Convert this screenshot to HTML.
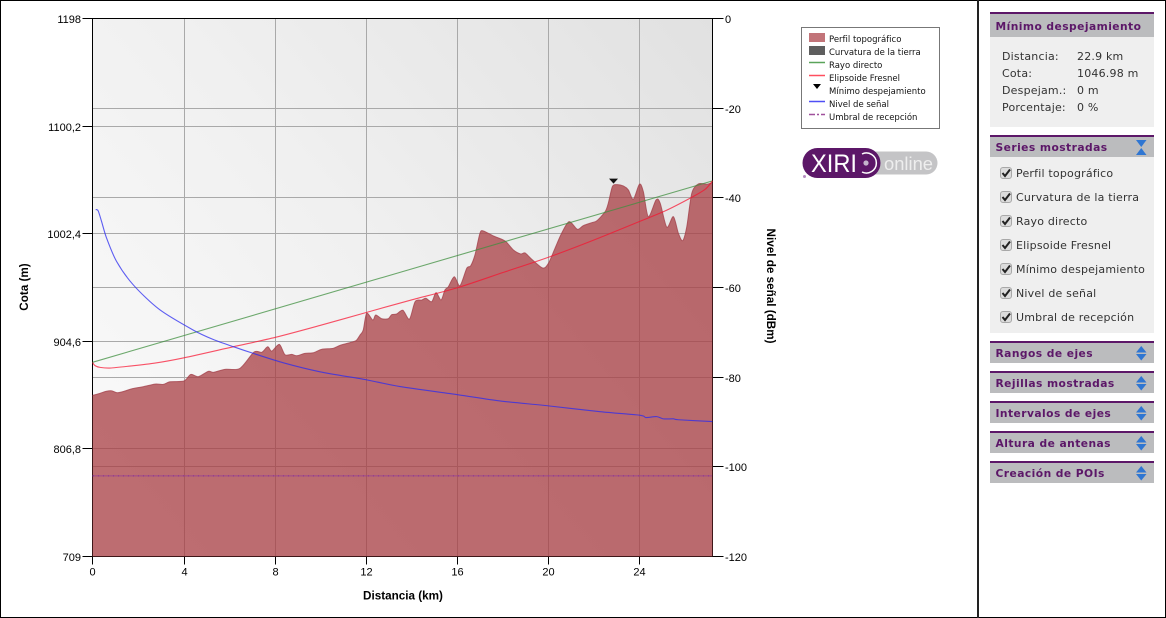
<!DOCTYPE html>
<html lang="es">
<head>
<meta charset="utf-8">
<title>Perfil topográfico</title>
<style>
html,body{margin:0;padding:0;background:#fff;}
#page{position:relative;width:1166px;height:618px;overflow:hidden;background:#fff;font-family:"DejaVu Sans","Liberation Sans",sans-serif;}
#page-frame{position:absolute;left:0;top:0;width:1164px;height:616px;border:1px solid #000;}
#divider{position:absolute;left:977px;top:0;width:2px;height:618px;background:#222;}
#chart{position:absolute;left:0;top:0;}
.panel{position:absolute;left:990px;width:164px;}
.head{position:absolute;left:0;top:0;width:164px;background:#bbbcbe;border-top:2px solid #5c1768;box-sizing:border-box;height:22px;color:#5c1768;font:bold 10.7px "DejaVu Sans",sans-serif;letter-spacing:.45px;line-height:21px;padding-left:5.500px;white-space:nowrap;cursor:pointer;}
.body{position:absolute;left:0;width:164px;background:#efefef;}
.row{position:absolute;font:11px "DejaVu Sans",sans-serif;letter-spacing:.2px;color:#333;white-space:nowrap;line-height:14px;}
.box{position:absolute;left:10px;width:10px;height:10px;background:#dcdcdc;border:1px solid #a8a8a8;border-radius:3px;}
.box svg{position:absolute;left:0;top:0;}
.arrows{position:absolute;left:146px;top:3px;}
</style>
</head>
<body>
<div id="page">
<div id="page-frame"></div>
<div id="divider"></div>

<svg id="chart" width="975" height="618" viewBox="0 0 975 618" xmlns="http://www.w3.org/2000/svg">
<defs>
<linearGradient id="bgGrad" gradientUnits="userSpaceOnUse" x1="92" y1="556" x2="712" y2="18">
<stop offset="0" stop-color="#fbfbfb"/>
<stop offset="0.5" stop-color="#f0f0f0"/>
<stop offset="1" stop-color="#e1e1e1"/>
</linearGradient>
</defs>
<rect x="92.5" y="18.5" width="620" height="538" fill="url(#bgGrad)"/>
<g id="grid"></g>
<g id="axes"></g>
<g id="marks"></g>
<text x="25" y="287" transform="rotate(-90 25 287)" text-anchor="middle" dominant-baseline="middle" font-family="'Liberation Sans',sans-serif" font-weight="bold" font-size="11.7" fill="#000">Cota (m)</text>
<text x="770" y="286" transform="rotate(90 770 286)" text-anchor="middle" dominant-baseline="middle" font-family="'Liberation Sans',sans-serif" font-weight="bold" font-size="11.7" fill="#000">Nivel de señal (dBm)</text>
<text x="403" y="599.5" text-anchor="middle" font-family="'Liberation Sans',sans-serif" font-weight="bold" font-size="11.7" fill="#000">Distancia (km)</text>

<g font-family="'DejaVu Sans','Liberation Sans',sans-serif" font-size="8.5" fill="#111">
<rect x="801.5" y="27.5" width="138" height="101" fill="#fff" stroke="#777"/>
<g><rect x="809" y="33" width="16" height="9" fill="#c27479"/><text x="829" y="42">Perfil topográfico</text></g>
<g><rect x="809" y="46" width="16" height="9" fill="#5e5e5e"/><text x="829" y="55">Curvatura de la tierra</text></g>
<g><line x1="809" x2="825" y1="62.5" y2="62.5" stroke="#5aa45a" stroke-width="1.5"/><text x="829" y="68">Rayo directo</text></g>
<g><line x1="809" x2="825" y1="75.5" y2="75.5" stroke="#ff4f5f" stroke-width="1.5"/><text x="829" y="81">Elipsoide Fresnel</text></g>
<g><path d="M813 84h8l-4 5z" fill="#000"/><text x="829" y="94">Mínimo despejamiento</text></g>
<g><line x1="809" x2="825" y1="101.5" y2="101.5" stroke="#4f4ff5" stroke-width="1.5"/><text x="829" y="107">Nivel de señal</text></g>
<g><line x1="809" x2="825" y1="114.5" y2="114.5" stroke="#a0509c" stroke-width="1.5" stroke-dasharray="6 2 2 2"/><text x="829" y="120">Umbral de recepción</text></g>
</g>

<g>
<rect x="860" y="151.5" width="77.5" height="23" rx="11.5" fill="#c4c4c6"/>
<rect x="802.5" y="148" width="78" height="30" rx="15" fill="#5c1768"/>
<circle cx="804.5" cy="176.5" r="1.5" fill="#b58cc0"/>
<text x="811" y="172" font-family="'Liberation Sans',sans-serif" font-size="25" fill="#fff" textLength="46" lengthAdjust="spacingAndGlyphs">XIRI</text>
<path d="M862 154 A10 10 0 1 1 862 172" fill="none" stroke="#fff" stroke-width="1.5"/>
<circle cx="866" cy="163" r="2.6" fill="#c4b4cc"/>
<text x="884" y="170" font-family="'Liberation Sans',sans-serif" font-size="18" fill="#eeeeee" textLength="49" lengthAdjust="spacingAndGlyphs">online</text>
</g>
</svg>

<div class="panel" style="top:12px;height:115px">
<div class="head" style="height:25px;line-height:25px">Mínimo despejamiento</div>
<div class="body" style="top:25px;height:90px">
<div class="row" style="left:12px;top:13px">Distancia:</div><div class="row" style="left:87px;top:13px">22.9 km</div>
<div class="row" style="left:12px;top:30px">Cota:</div><div class="row" style="left:87px;top:30px">1046.98 m</div>
<div class="row" style="left:12px;top:47px">Despejam.:</div><div class="row" style="left:87px;top:47px">0 m</div>
<div class="row" style="left:12px;top:64px">Porcentaje:</div><div class="row" style="left:87px;top:64px">0 %</div>
</div>
</div>

<div class="panel" style="top:135px;height:198px">
<div class="head">Series mostradas
<svg class="arrows" width="12" height="16"><path d="M0 0h10.500l-5.250 7z M0 15h10.500l-5.250-7z" fill="#2f76d2"/></svg></div>
<div class="body" style="top:22px;height:176px">
<div class="box" style="top:10px"><svg width="10" height="10"><path d="M1.500 5l2.500 3 5-6.500" fill="none" stroke="#222" stroke-width="2"/></svg></div><div class="row" style="left:26px;top:10px">Perfil topográfico</div>
<div class="box" style="top:34px"><svg width="10" height="10"><path d="M1.500 5l2.500 3 5-6.500" fill="none" stroke="#222" stroke-width="2"/></svg></div><div class="row" style="left:26px;top:34px">Curvatura de la tierra</div>
<div class="box" style="top:58px"><svg width="10" height="10"><path d="M1.500 5l2.500 3 5-6.500" fill="none" stroke="#222" stroke-width="2"/></svg></div><div class="row" style="left:26px;top:58px">Rayo directo</div>
<div class="box" style="top:82px"><svg width="10" height="10"><path d="M1.500 5l2.500 3 5-6.500" fill="none" stroke="#222" stroke-width="2"/></svg></div><div class="row" style="left:26px;top:82px">Elipsoide Fresnel</div>
<div class="box" style="top:106px"><svg width="10" height="10"><path d="M1.500 5l2.500 3 5-6.500" fill="none" stroke="#222" stroke-width="2"/></svg></div><div class="row" style="left:26px;top:106px">Mínimo despejamiento</div>
<div class="box" style="top:130px"><svg width="10" height="10"><path d="M1.500 5l2.500 3 5-6.500" fill="none" stroke="#222" stroke-width="2"/></svg></div><div class="row" style="left:26px;top:130px">Nivel de señal</div>
<div class="box" style="top:154px"><svg width="10" height="10"><path d="M1.500 5l2.500 3 5-6.500" fill="none" stroke="#222" stroke-width="2"/></svg></div><div class="row" style="left:26px;top:154px">Umbral de recepción</div>
</div>
</div>

<div class="panel" style="top:341px;height:22px"><div class="head">Rangos de ejes<svg class="arrows" width="12" height="16"><path d="M0 6.500h10.500l-5.250-6.500z M0 8h10.500l-5.250 6.500z" fill="#2f76d2"/></svg></div></div>
<div class="panel" style="top:371px;height:22px"><div class="head">Rejillas mostradas<svg class="arrows" width="12" height="16"><path d="M0 6.500h10.500l-5.250-6.500z M0 8h10.500l-5.250 6.500z" fill="#2f76d2"/></svg></div></div>
<div class="panel" style="top:401px;height:22px"><div class="head">Intervalos de ejes<svg class="arrows" width="12" height="16"><path d="M0 6.500h10.500l-5.250-6.500z M0 8h10.500l-5.250 6.500z" fill="#2f76d2"/></svg></div></div>
<div class="panel" style="top:431px;height:22px"><div class="head">Altura de antenas<svg class="arrows" width="12" height="16"><path d="M0 6.500h10.500l-5.250-6.500z M0 8h10.500l-5.250 6.500z" fill="#2f76d2"/></svg></div></div>
<div class="panel" style="top:461px;height:22px"><div class="head">Creación de POIs<svg class="arrows" width="12" height="16"><path d="M0 6.500h10.500l-5.250-6.500z M0 8h10.500l-5.250 6.500z" fill="#2f76d2"/></svg></div></div>
</div>

<script>
// ---- Chart data ----
var xTicks = [0, 4, 8, 12, 16, 20, 24];
var leftTicks = [1198, 1100.2, 1002.4, 904.6, 806.8, 709];
var leftTickLabels = ['1198', '1100,2', '1002,4', '904,6', '806,8', '709'];
var rightTicks = [0, -20, -40, -60, -80, -100, -120];
var terrainKm = [0,0.33,0.59,0.84,1.09,1.43,1.72,2.23,2.75,3.11,3.41,4.02,4.32,4.65,5.09,5.31,5.82,6.48,7.1,7.44,7.7,7.88,8.21,8.46,8.76,8.98,9.34,9.71,10.07,10.58,10.88,11.46,11.61,11.76,11.9,12.05,12.32,12.45,12.71,13,13.15,13.37,13.64,13.93,14.18,14.47,14.65,14.91,15.1,15.32,15.49,15.64,15.9,16.15,16.45,16.62,16.81,17.03,17.18,17.62,18.13,18.5,18.82,19.01,19.31,19.79,20.04,20.33,20.62,20.95,21.31,21.57,21.94,22.16,22.53,22.67,22.85,23.04,23.33,23.55,23.77,24.04,24.21,24.43,24.77,24.95,25.24,25.53,25.75,25.94,26.12,26.34,26.63,27,27.25];
var terrainM = [855.4,857.3,859.1,859.6,857.8,859.4,861.4,863.3,865.7,865.4,867.8,868.5,874.5,872.4,877.3,876.4,879.1,880,894.8,894.6,899.6,895.7,901.8,892.4,892.7,891.5,893.6,894.2,897.3,898.2,900.9,904.2,905.7,910.3,914.8,930,923.9,928.5,925.1,925.1,928.8,929.4,932.8,924.8,940.6,942.1,943.7,940.6,948.8,942.1,951.2,954.2,963.3,955.1,971,973.1,983.1,1002.8,1004.9,1000.3,995.8,987.6,984,984.9,979.1,971.2,975.5,989.2,1002.8,1013.4,1006.4,1009.7,1012.4,1014,1022.4,1030.1,1045.2,1047,1045.8,1042.2,1033.7,1047.4,1040.6,1017.9,1033.1,1030.1,1008.3,1017.9,1002.8,996.1,1008.8,1039.2,1047.6,1047.4,1048.8];
var rayKm = [0, 27.25];
var rayM = [885.5, 1050.4];
var fresnelKm = [0,0.11,0.33,0.77,1.65,2.75,4.02,6.18,8.04,10,12.05,14,16.04,18.04,20.04,22.04,24.04,25.17,26.26,26.92,27.25];
var fresnelM = [885.3,882.5,880.9,880.3,882.1,884.8,889.6,899.6,908.2,919,930.9,942.1,953.3,967.1,981,996.7,1013.5,1023.1,1034.6,1042.6,1050.4];
var signalKm = [0.14,0.25,0.4,0.62,1.06,1.79,2.94,4.43,5.31,6.19,7.07,8.39,10,12.05,13.52,16.04,17.91,20.04,22.31,24.07,24.32,24.8,25.09,25.53,25.75,27.25];
var signalDbm = [-42.6,-42.9,-45.3,-49,-54.2,-59.4,-64.9,-69.5,-71.6,-73.2,-74.7,-76.8,-78.8,-80.6,-82.1,-83.9,-85.3,-86.4,-87.7,-88.5,-89,-88.8,-89.3,-89.3,-89.5,-89.9];
var thresholdDbm = [-102];
var minClearanceKm = [22.9];
var minClearanceM = [1046.98];

// ---- Axis functions ----
var X0 = 92.5, X1 = 712.5, Y0 = 18.5, Y1 = 556.5;
var KM_MAX = 27.25, M_MIN = 709, M_MAX = 1198, DB_MIN = -120, DB_MAX = 0;
function xScale(km) { return X0 + (km / KM_MAX) * (X1 - X0); }
function yLeft(m) { return Y0 + (M_MAX - m) / (M_MAX - M_MIN) * (Y1 - Y0); }
function yRight(db) { return Y0 + (DB_MAX - db) / (DB_MAX - DB_MIN) * (Y1 - Y0); }
function snap(v) { return Math.round(v - 0.5) + 0.5; }
function snapTickX(km) { return km === 0 ? X0 : Math.round(xScale(km)) + 0.5; }

var NS = 'http://www.w3.org/2000/svg';
function mk(parent, tag, attrs) {
  var el = document.createElementNS(NS, tag);
  for (var k in attrs) el.setAttribute(k, attrs[k]);
  parent.appendChild(el);
  return el;
}
function linePath(xs, ys, yFn) {
  var px = xs.map(xScale);
  var py = ys.map(yFn);
  var d = 'M' + px[0].toFixed(2) + ' ' + py[0].toFixed(2);
  var k = 1 / 7;
  for (var i = 0; i < px.length - 1; i++) {
    var a = Math.max(i - 1, 0), b = Math.min(i + 2, px.length - 1);
    var c1x = px[i] + (px[i + 1] - px[a]) * k;
    var c1y = py[i] + (py[i + 1] - py[a]) * k;
    var c2x = px[i + 1] - (px[b] - px[i]) * k;
    var c2y = py[i + 1] - (py[b] - py[i]) * k;
    d += 'C' + c1x.toFixed(2) + ' ' + c1y.toFixed(2) + ' ' + c2x.toFixed(2) + ' ' + c2y.toFixed(2) + ' ' + px[i + 1].toFixed(2) + ' ' + py[i + 1].toFixed(2);
  }
  return d;
}
var gridG = document.getElementById('grid');
var axesG = document.getElementById('axes');
var marksG = document.getElementById('marks');
var GRID = '#a9a9a9';
var FONT = "'Liberation Sans',sans-serif";

// Grid and ticks
xTicks.forEach(function (t) {
  var x = snapTickX(t);
  if (t > 0) {
    var g = mk(gridG, 'line', { x1: x, x2: x, y1: Y0, y2: Y1, stroke: GRID, 'stroke-width': 1 });
    
    
  }
  var tk = mk(axesG, 'line', { x1: x, x2: x, y1: Y1, y2: Y1 + 8, stroke: '#000', 'stroke-width': 1 });
  
  
  var lb = mk(axesG, 'text', { x: x, y: 575.5, 'text-anchor': 'middle', 'font-family': FONT, 'font-size': 11, fill: '#000' });
  lb.textContent = String(t);
  
  
});
leftTicks.forEach(function (t, i) {
  var y = snap(yLeft(t));
  if (i > 0 && i < leftTicks.length - 1) {
    var g = mk(gridG, 'line', { x1: X0, x2: X1, y1: y, y2: y, stroke: GRID, 'stroke-width': 1 });
    
    
  }
  var tk = mk(axesG, 'line', { x1: X0 - 10, x2: X0, y1: y, y2: y, stroke: '#000', 'stroke-width': 1 });
  
  
  var lb = mk(axesG, 'text', { x: 81, y: y + 4.5, 'text-anchor': 'end', 'font-family': FONT, 'font-size': 11, fill: '#000' });
  lb.textContent = leftTickLabels[i];
  
  
});
rightTicks.forEach(function (t, i) {
  var y = snap(yRight(t));
  if (i > 0 && i < rightTicks.length - 1) {
    var g = mk(gridG, 'line', { x1: X0, x2: X1, y1: y, y2: y, stroke: GRID, 'stroke-width': 1 });
    
    
  }
  var tk = mk(axesG, 'line', { x1: X1, x2: X1 + 11, y1: y, y2: y, stroke: '#000', 'stroke-width': 1 });
  
  
  var lb = mk(axesG, 'text', { x: 725, y: y + 4.5, 'font-family': FONT, 'font-size': 11, fill: '#000' });
  lb.textContent = String(t);
  
  
});
var frame = mk(axesG, 'rect', { x: X0, y: Y0, width: X1 - X0, height: Y1 - Y0, fill: 'none', stroke: '#000', 'stroke-width': 1 });



// Terrain
var terrainD = linePath(terrainKm, terrainM, yLeft);
var lastKm = terrainKm[terrainKm.length - 1];
var terrainArea = mk(marksG, 'path', {
  d: terrainD + 'L' + xScale(lastKm) + ' ' + Y1 + 'L' + xScale(0) + ' ' + Y1 + 'Z',
  fill: 'rgb(168,62,67)', 'fill-opacity': 0.75
});


var terrainLine = mk(marksG, 'path', { d: terrainD, fill: 'none', stroke: '#a4444e', 'stroke-opacity': 0.8, 'stroke-width': 1 });



// Lines
var rayLine = mk(marksG, 'path', { d: linePath(rayKm, rayM, yLeft), fill: 'none', stroke: '#3f8f3f', 'stroke-opacity': 0.75, 'stroke-width': 1.1 });


var fresnelLine = mk(marksG, 'path', { d: linePath(fresnelKm, fresnelM, yLeft), fill: 'none', stroke: '#f8102e', 'stroke-opacity': 0.72, 'stroke-width': 1.1 });


var signalLine = mk(marksG, 'path', { d: linePath(signalKm, signalDbm, yRight), fill: 'none', stroke: '#2a2af0', 'stroke-opacity': 0.75, 'stroke-width': 1.1 });


var thY = yRight(thresholdDbm[0]);
var thLine = mk(marksG, 'line', { x1: X0, x2: X1, y1: thY, y2: thY, stroke: '#96408f', 'stroke-width': 1.6, 'stroke-dasharray': '2 1 1 1' });



// Minimum clearance marker
var mx = xScale(minClearanceKm[0]);
var my = yLeft(minClearanceM[0]);
var marker = mk(marksG, 'path', { d: 'M' + (mx - 4.5) + ' ' + (my - 6) + 'h9l-4.500 5z', fill: '#111' });


</script>
</body>
</html>
